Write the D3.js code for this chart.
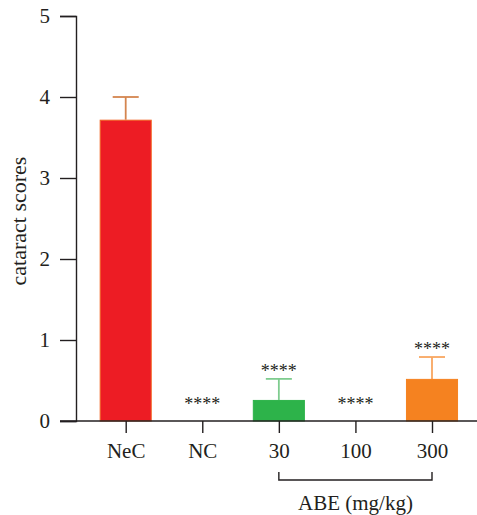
<!DOCTYPE html>
<html>
<head>
<meta charset="utf-8">
<script src="https://cdn.jsdelivr.net/npm/d3@7"></script>
<style>
  html, body { margin: 0; padding: 0; background: #fff; }
  svg { display: block; font-family: "Liberation Serif", "DejaVu Serif", serif; }
</style>
</head>
<body>
<div id="chart"></div>
<script>
// data
var groups = ["NeC", "NC", "30", "100", "300"];
var scores = [3.72, 0, 0.26, 0, 0.52];
var errors = [0.28, 0, 0.26, 0, 0.27];
var fills = ["#ed1c24", null, "#2db34a", null, "#f58220"];
var edges = ["#f26522", null, "#2db34a", null, "#f58220"];
var errColors = ["#d4854f", null, "#7fcc8f", null, "#f9a660"];
var stars = ["", "****", "****", "****", "****"];
var yTicks = [0, 1, 2, 3, 4, 5];

var width = 477, height = 515;

var svg = d3.select("#chart").append("svg")
  .attr("width", width)
  .attr("height", height);

var x = d3.scalePoint()
  .domain(groups)
  .range([125.7, 432]);

var y = d3.scaleLinear()
  .domain([0, 5])
  .range([421, 16]);

var barW = x.step() * 0.68;
var axisColor = "#231f20";

// y axis
var yAxis = svg.append("g")
  .attr("transform", "translate(76,0)")
  .call(d3.axisLeft(y).tickValues(yTicks).tickFormat(d3.format("d")).tickSize(16).tickPadding(10));
yAxis.select(".domain").attr("stroke", axisColor).attr("stroke-width", 1.4);
yAxis.selectAll(".tick line").attr("stroke", axisColor).attr("stroke-width", 1.4);
yAxis.selectAll(".tick text")
  .attr("fill", axisColor)
  .style("font-size", "21px")
  .style("font-family", "Liberation Serif, serif");

// bars
var data = groups.map(function(g, i) {
  return { name: g, v: scores[i], e: errors[i], fill: fills[i], edge: edges[i], ec: errColors[i], star: stars[i] };
});

var bars = svg.append("g").selectAll("g")
  .data(data.filter(function(d) { return d.v > 0; }))
  .enter().append("g");

// error bars (drawn first, bar covers stem bottom)
bars.append("line")
  .attr("x1", function(d) { return x(d.name); })
  .attr("x2", function(d) { return x(d.name); })
  .attr("y1", function(d) { return y(d.v); })
  .attr("y2", function(d) { return y(d.v + d.e); })
  .attr("stroke", function(d) { return d.ec; })
  .attr("stroke-width", 1.8);

bars.append("line")
  .attr("x1", function(d) { return x(d.name) - barW / 4; })
  .attr("x2", function(d) { return x(d.name) + barW / 4; })
  .attr("y1", function(d) { return y(d.v + d.e); })
  .attr("y2", function(d) { return y(d.v + d.e); })
  .attr("stroke", function(d) { return d.ec; })
  .attr("stroke-width", 1.8);

bars.append("rect")
  .attr("x", function(d) { return x(d.name) - barW / 2 + 0.5; })
  .attr("width", barW - 1)
  .attr("y", function(d) { return y(d.v) + 0.5; })
  .attr("height", function(d) { return y(0) - y(d.v) - 0.5; })
  .attr("fill", function(d) { return d.fill; })
  .attr("stroke", function(d) { return d.edge; })
  .attr("stroke-width", 1);

// x axis line, starting under the y ticks
svg.append("line")
  .attr("x1", 60).attr("x2", width)
  .attr("y1", y(0)).attr("y2", y(0))
  .attr("stroke", axisColor)
  .attr("stroke-width", 1.4);

var xAxis = svg.append("g")
  .attr("transform", "translate(0," + y(0) + ")")
  .call(d3.axisBottom(x).tickSize(12).tickPadding(10));
xAxis.select(".domain").remove();
xAxis.selectAll(".tick line").attr("stroke", axisColor).attr("stroke-width", 1.4);
xAxis.selectAll(".tick text")
  .attr("fill", axisColor)
  .style("font-size", "21px")
  .style("font-family", "Liberation Serif, serif");

// significance stars
svg.append("g").selectAll("text")
  .data(data.filter(function(d) { return d.star; }))
  .enter().append("text")
  .attr("x", function(d) { return x(d.name); })
  .attr("y", function(d) {
    var top = d.v > 0 ? y(d.v + d.e) - 11 : y(0) - 20;
    return top + 9;
  })
  .attr("text-anchor", "middle")
  .attr("fill", axisColor)
  .style("font-size", "18px")
  .text(function(d) { return d.star; });

// ABE bracket
var bx0 = x("30"), bx1 = x("300");
svg.append("path")
  .attr("d", "M" + bx0 + ",472V480H" + bx1 + "V472")
  .attr("fill", "none")
  .attr("stroke", axisColor)
  .attr("stroke-width", 1.4);

svg.append("text")
  .attr("x", (bx0 + bx1) / 2)
  .attr("y", 510)
  .attr("text-anchor", "middle")
  .attr("fill", axisColor)
  .style("font-size", "21px")
  .text("ABE (mg/kg)");

// y label
svg.append("text")
  .attr("transform", "translate(26,221) rotate(-90)")
  .attr("text-anchor", "middle")
  .attr("fill", axisColor)
  .style("font-size", "22px")
  .text("cataract scores");
</script>
</body>
</html>
